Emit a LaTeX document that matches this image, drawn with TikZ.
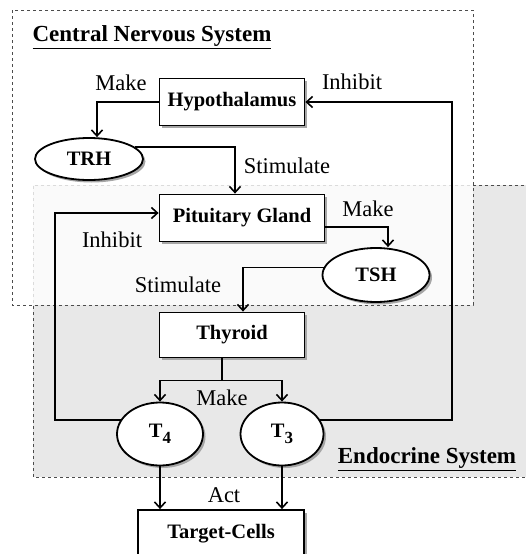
\documentclass[tikz,border=0pt]{standalone}
\usepackage{fontspec}
\setmainfont{Liberation Serif}
\usetikzlibrary{arrows.meta,shadows,shapes.geometric}
\begin{document}
\begin{tikzpicture}[x=1pt,y=-1pt,
  shad/.style={drop shadow={shadow xshift=2.5pt,shadow yshift=-2.5pt,fill=black!35,opacity=1}},
  boxnode/.style={draw,line width=1.8pt,fill=white,inner sep=0pt,shad,
    font=\fontsize{20.5}{22}\selectfont\bfseries},
  ellnode/.style={ellipse,draw,line width=1.8pt,fill=white,inner sep=0pt,shad,
    font=\fontsize{20.5}{22}\selectfont\bfseries},
  lbl/.style={font=\fontsize{22.5}{24}\selectfont,inner sep=0pt},
  ttl/.style={font=\fontsize{23}{24}\selectfont\bfseries,inner sep=0pt},
  arr/.style={line width=1.7pt,-{Straight Barb[length=6pt,width=11pt,line width=1.6pt]}},
  ln/.style={line width=1.7pt},
  zone/.style={dash pattern=on 3pt off 3pt,line width=0.7pt,draw=black!70}]
\useasboundingbox (0,0) rectangle (526,554);
% endocrine region
\fill[black!9] (33,185) rectangle (530,477);
\draw[zone] (530,185) -- (33,185) -- (33,477) -- (530,477);
% CNS region
\fill[white,opacity=0.8] (12,10) rectangle (473,305);
\draw[zone] (12,10) rectangle (473,305);
\node[ttl] (cns) at (152,37) {\underline{Central Nervous System}};
\node[ttl] (endo) at (427,459) {\underline{Endocrine System}};
% nodes
\node[boxnode,minimum width=145pt,minimum height=47pt] (hyp) at (232,102) {Hypothalamus};
\node[ellnode,minimum width=108pt,minimum height=42pt] (trh) at (89,159) {TRH};
\node[boxnode,minimum width=165pt,minimum height=47pt] (pit) at (242,218) {Pituitary Gland};
\node[ellnode,minimum width=107pt,minimum height=54pt] (tsh) at (376,275) {TSH};
\node[boxnode,minimum width=145pt,minimum height=45pt] (thy) at (232,335) {Thyroid};
\node[ellnode,minimum width=86pt,minimum height=63pt] (t4) at (160,434) {T\raisebox{-0.3em}{\fontsize{17}{17}\selectfont 4}};
\node[ellnode,minimum width=83pt,minimum height=63pt] (t3) at (282,434) {T\raisebox{-0.3em}{\fontsize{17}{17}\selectfont 3}};
\node[boxnode,minimum width=166pt,minimum height=48pt] (tc) at (221,534) {Target-Cells};
% coordinates
\coordinate (rt) at (452,102);
\coordinate (lt) at (55,213);
% connectors
\draw[arr] (hyp.west) -| ([xshift=8pt]trh.north);
\draw[arr] (trh.15) -| ([xshift=-7pt]pit.north);
\draw[arr] (t3.20) -| (rt) -- (hyp.east);
\draw[arr] (t4.160) -| (lt) -- (pit.west |- lt);
\draw[arr] ([yshift=-9pt]pit.east) -| ([xshift=12pt]tsh.north);
\draw[arr] (tsh.172) -| ([xshift=11pt]thy.north);
\draw[ln] ([xshift=-10pt]thy.south) -- ++(0,22) coordinate (sp);
\draw[arr] (sp) -| (t4.north);
\draw[arr] (sp) -| (t3.north);
\draw[arr] (t4.south) -- (t4.south |- tc.north);
\draw[arr] (t3.south) -- (t3.south |- tc.north);
% labels
\node[lbl] (l1) at (121,83) {Make};
\node[lbl] (l2) at (352,82) {Inhibit};
\node[lbl] (l3) at (287,166) {Stimulate};
\node[lbl] (l4) at (368,209) {Make};
\node[lbl] (l5) at (112,240) {Inhibit};
\node[lbl] (l6) at (178,285) {Stimulate};
\node[lbl] (l7) at (222,398) {Make};
\node[lbl] (l8) at (224,495) {Act};
\end{tikzpicture}
\end{document}
